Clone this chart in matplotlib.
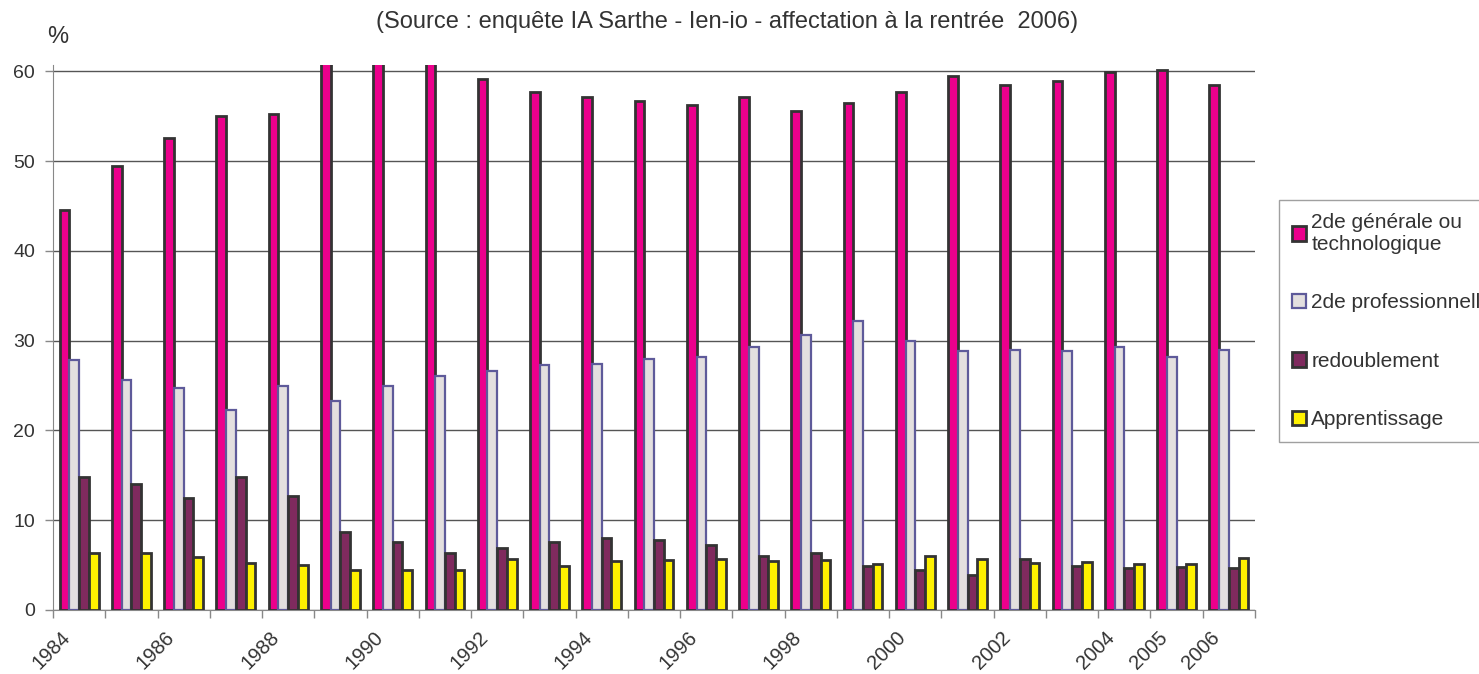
import numpy as np
import matplotlib
matplotlib.use("Agg")
import matplotlib.pyplot as plt
import matplotlib.transforms as mtransforms

plt.rcParams['font.family'] = ['Liberation Sans', 'DejaVu Sans']

years = list(range(1984, 2007))
shown_labels = ["1984", "", "1986", "", "1988", "", "1990", "", "1992", "", "1994", "",
                "1996", "", "1998", "", "2000", "", "2002", "", "2004", "2005", "2006"]

generale = [44.5, 49.4, 52.6, 55.0, 55.2, 62.0, 62.0, 62.0, 59.1, 57.7, 57.1, 56.7,
            56.2, 57.1, 55.6, 56.5, 57.7, 59.5, 58.5, 58.9, 59.9, 60.1, 58.5]
professionnelle = [27.8, 25.6, 24.7, 22.3, 25.0, 23.3, 24.9, 26.1, 26.6, 27.3, 27.4, 28.0,
                   28.2, 29.3, 30.6, 32.2, 30.0, 28.8, 29.0, 28.9, 29.3, 28.2, 29.0]
redoublement = [14.8, 14.0, 12.5, 14.8, 12.7, 8.7, 7.6, 6.3, 6.9, 7.6, 8.0, 7.8,
                7.2, 6.0, 6.3, 4.9, 4.5, 3.9, 5.7, 4.9, 4.7, 4.8, 4.7]
apprentissage = [6.4, 6.4, 5.9, 5.2, 5.0, 4.5, 4.4, 4.4, 5.7, 4.9, 5.5, 5.6,
                 5.7, 5.5, 5.6, 5.1, 6.0, 5.7, 5.2, 5.4, 5.1, 5.1, 5.8]

series = [
    ("2de générale ou\ntechnologique", generale, "#EC008C", "#333333", 2.0),
    ("2de professionnelle", professionnelle, "#E3DFDF", "#5E5A9A", 1.6),
    ("redoublement", redoublement, "#7F2A5E", "#333333", 2.0),
    ("Apprentissage", apprentissage, "#FFF100", "#333333", 2.0),
]

fig = plt.figure(figsize=(14.79, 6.74), dpi=100)
ax = fig.add_axes([53 / 1479, 1 - 610 / 674, (1255 - 53) / 1479, (610 - 65) / 674])

x = np.arange(len(years))
w = 0.186
for i, (name, vals, fc, ec, lw) in enumerate(series):
    ax.bar(x + (i - 1.5) * w, vals, width=w, color=fc, edgecolor=ec,
           linewidth=lw, label=name, zorder=3)

ax.set_xlim(-0.5, len(years) - 0.5)
ax.set_ylim(0, 60.7)
ax.set_yticks(range(0, 61, 10))
ax.yaxis.grid(True, color="#555555", linewidth=1.0, zorder=0)
for s in ["top", "right"]:
    ax.spines[s].set_visible(False)
ax.spines["left"].set_color("#888888")
ax.spines["bottom"].set_color("#888888")
ax.tick_params(axis="y", length=6, width=1, color="#888888", labelsize=14,
               labelcolor="#333333", pad=7)

ax.set_xticks(x)
ax.set_xticklabels(shown_labels, rotation=45, ha="right", va="top",
                   rotation_mode="anchor", fontsize=14.5, color="#333333")
ax.tick_params(axis="x", which="major", length=0, pad=10)
ax.set_xticks(np.arange(-0.5, len(years)), minor=True)
ax.tick_params(axis="x", which="minor", length=6, width=1, color="#888888")
shift = mtransforms.ScaledTranslation(-19 / 100, -4 / 100, fig.dpi_scale_trans)
for lab in ax.get_xticklabels():
    lab.set_transform(lab.get_transform() + shift)

fig.text(58 / 1479, 1 - 37 / 674, "%", fontsize=17, color="#333333", ha="center", va="center")
fig.text(727 / 1479, 1 - 22 / 674,
         "(Source : enquête IA Sarthe - Ien-io - affectation à la rentrée  2006)",
         fontsize=17, color="#333333", ha="center", va="center")

# legend sits partly outside the canvas, as in the source chart
leg = fig.legend(loc="upper left", bbox_to_anchor=(1279 / 1479, 1 - 200 / 674),
                 fontsize=15, frameon=True, fancybox=False, labelspacing=1.9,
                 handlelength=0.7, handleheight=0.7, handletextpad=0.25,
                 borderpad=0.6, borderaxespad=0)
leg.get_frame().set_edgecolor("#888888")
leg.get_frame().set_linewidth(1.0)
for t in leg.get_texts():
    t.set_color("#333333")

fig.savefig("out.png", dpi=100)
